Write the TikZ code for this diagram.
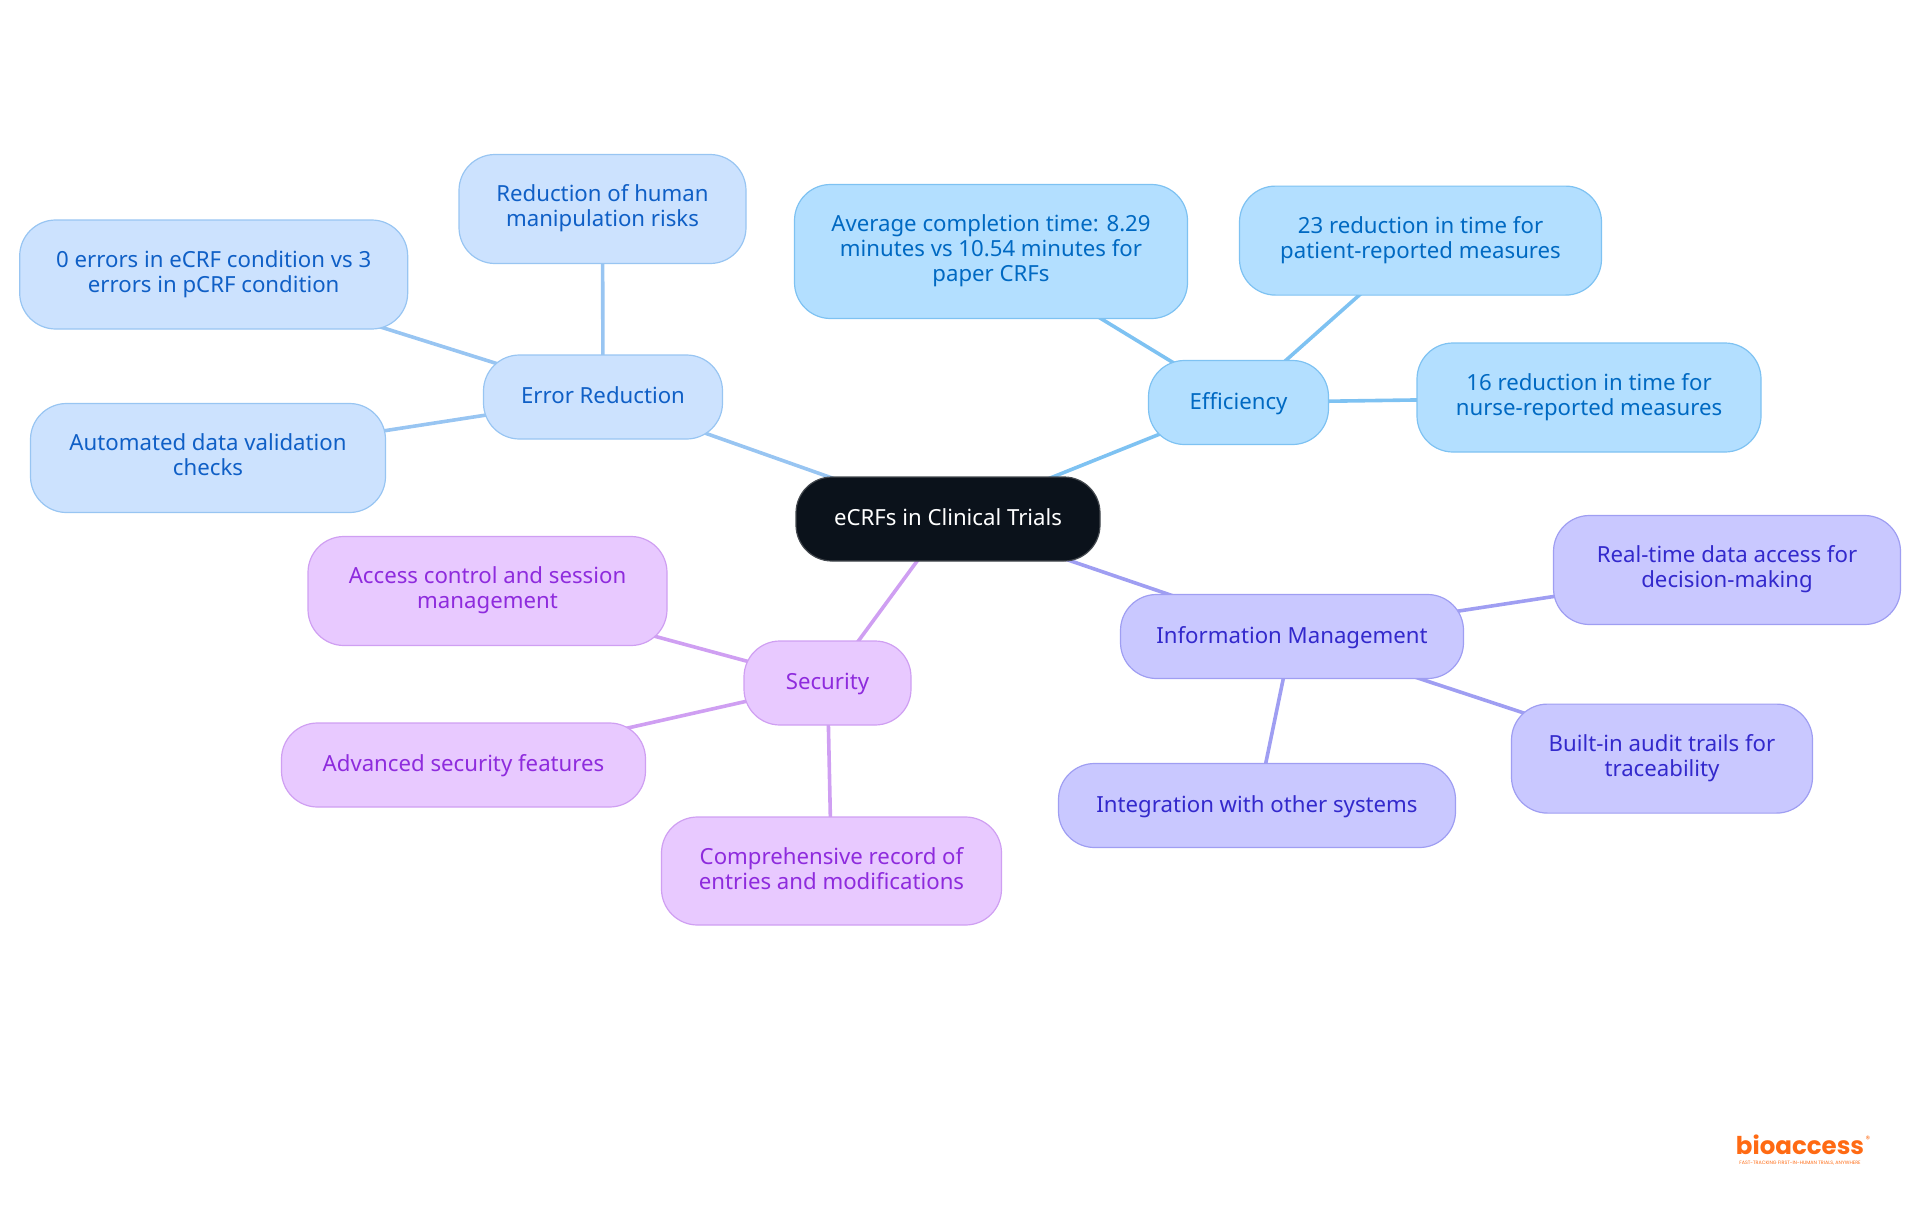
\documentclass[tikz,border=0pt]{standalone}
\usepackage{fontspec}
\setmainfont{Noto Sans}
\newfontfamily\logofont{Poppins}
\usetikzlibrary{backgrounds}

\definecolor{rootfill}{HTML}{0B121B}
\definecolor{rootline}{HTML}{44494F}
\definecolor{efffill}{HTML}{B3DFFF}
\definecolor{effline}{HTML}{7EC2F2}
\definecolor{efftext}{HTML}{0069C2}
\definecolor{errfill}{HTML}{CCE2FE}
\definecolor{errline}{HTML}{98C5F2}
\definecolor{errtext}{HTML}{0F5FC6}
\definecolor{inffill}{HTML}{C9C8FF}
\definecolor{infline}{HTML}{9F9EF2}
\definecolor{inftext}{HTML}{3329CC}
\definecolor{secfill}{HTML}{E8C9FF}
\definecolor{secline}{HTML}{CF9FF2}
\definecolor{sectext}{HTML}{8E2BDD}
\definecolor{logoorange}{HTML}{FF6A13}

\def\boxstrut{\rule[-6pt]{0pt}{25pt}}

\tikzset{
  box/.style={draw, line width=1.2pt, rounded corners=36pt, inner sep=0pt, align=center,
    minimum height=84pt, font=\fontsize{22.2}{25}\selectfont,
    execute at begin node=\boxstrut, execute at end node=\boxstrut},
  rootbox/.style={box, fill=rootfill, draw=rootline, text=white},
  effbox/.style={box, fill=efffill, draw=effline, text=efftext},
  errbox/.style={box, fill=errfill, draw=errline, text=errtext},
  infbox/.style={box, fill=inffill, draw=infline, text=inftext},
  secbox/.style={box, fill=secfill, draw=secline, text=sectext},
  link/.style={line width=3.6pt}
}

\begin{document}
\begin{tikzpicture}[x=1pt, y=-1pt]
\useasboundingbox (0,0) rectangle (1920,1215);

\node[rootbox, minimum width=304pt] (root) at (948,519) {eCRFs in Clinical Trials};

% error reduction
\node[errbox, minimum width=239pt] (err) at (603,397) {Error Reduction};
\node[errbox, minimum width=287pt, minimum height=109pt] (errhuman) at (602.5,209) {Reduction of human\\manipulation risks};
\node[errbox, minimum width=388pt, minimum height=109pt] (errzero) at (213.7,274.5) {0 errors in eCRF condition vs 3\\errors in pCRF condition};
\node[errbox, minimum width=355pt, minimum height=109pt] (errauto) at (208,458) {Automated data validation\\checks};

% efficiency
\node[effbox, minimum width=180pt] (eff) at (1238.5,402.5) {Efficiency};
\node[effbox, minimum width=393pt, minimum height=134pt] (effavg) at (991,251.5) {Average completion time: 8.29\\minutes vs 10.54 minutes for\\paper CRFs};
\node[effbox, minimum width=362pt, minimum height=109pt] (effpat) at (1420.5,240.6) {23 reduction in time for\\patient-reported measures};
\node[effbox, minimum width=344pt, minimum height=109pt] (effnur) at (1589,397.5) {16 reduction in time for\\nurse-reported measures};

% information management
\node[infbox, minimum width=343pt] (inf) at (1292,636.5) {Information Management};
\node[infbox, minimum width=347pt, minimum height=109pt] (infreal) at (1727,570) {Real-time data access for\\decision-making};
\node[infbox, minimum width=301pt, minimum height=109pt] (infaudit) at (1662,758.6) {Built-in audit trails for\\traceability};
\node[infbox, minimum width=397pt] (infint) at (1257,805.5) {Integration with other systems};

% security
\node[secbox, minimum width=167pt] (sec) at (827.5,683) {Security};
\node[secbox, minimum width=359pt, minimum height=109pt] (secacc) at (487.5,591) {Access control and session\\management};
\node[secbox, minimum width=364pt] (secadv) at (463.5,765) {Advanced security features};
\node[secbox, minimum width=340pt, minimum height=108pt] (seccomp) at (831.5,871) {Comprehensive record of\\entries and modifications};

% logo
\node[text=logoorange, inner sep=0pt, font=\logofont\bfseries\fontsize{24.5}{25}\selectfont] (logo) at (1800,1145) {bioaccess};
\node[text=logoorange, inner sep=0pt, font=\logofont\fontsize{9}{9}\selectfont] (logomark) at (1868,1139) {®};
\node[text=logoorange, inner sep=0pt, font=\logofont\fontsize{4.8}{5}\selectfont] (logotag) at (1800,1163) {FAST-TRACKING FIRST-IN-HUMAN TRIALS, ANYWHERE};

\begin{scope}[on background layer]
\foreach \a/\b/\c in {root/err/errline, err/errhuman/errline, err/errzero/errline, err/errauto/errline,
    root/eff/effline, eff/effavg/effline, eff/effpat/effline, eff/effnur/effline,
    root/inf/infline, inf/infreal/infline, inf/infaudit/infline, inf/infint/infline,
    root/sec/secline, sec/secacc/secline, sec/secadv/secline, sec/seccomp/secline}
{
  \draw[link, \c] (\a.center) -- (\b.center);
}
\end{scope}
\end{tikzpicture}
\end{document}
